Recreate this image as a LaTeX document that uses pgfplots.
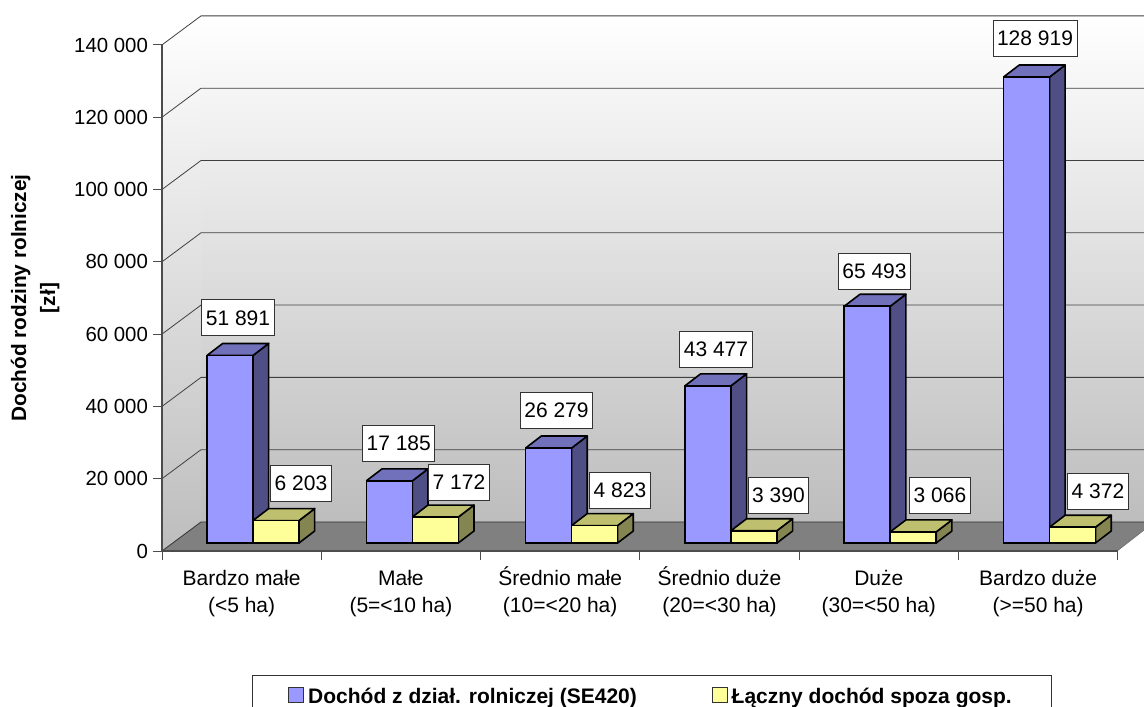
\documentclass[border=0pt]{standalone}
\usepackage{fontspec}
\setmainfont{Liberation Sans}
\usepackage{pgfplots}
\pgfplotsset{compat=1.18}
\definecolor{bluefront}{HTML}{9999FF}
\definecolor{blueside}{HTML}{4F4F85}
\definecolor{bluetop}{HTML}{7070BB}
\definecolor{yellowfront}{HTML}{FFFF99}
\definecolor{yellowside}{HTML}{858552}
\definecolor{yellowtop}{HTML}{BFBF70}
\definecolor{wallgrey}{HTML}{BDBDBD}
\definecolor{floorgrey}{HTML}{808080}
\newcommand\chartfont{\fontsize{10.5pt}{13.5pt}\selectfont}

% side and top of a 3D bar: left x, right x, value, side colour, top colour
\newcommand\barfaces[5]{%
  \addplot[fill=#4,draw=black,line width=0.8pt,line join=round,forget plot]
    table[row sep=\\,x expr=#2+\thisrow{a}*0.0985,y expr=2213+\thisrow{a}*3320+\thisrow{b}*#3]
    {a b\\0 0\\1 0\\1 1\\0 1\\0 0\\};
  \addplot[fill=#5,draw=black,line width=0.8pt,line join=round,forget plot]
    table[row sep=\\,x expr=#1+\thisrow{a}*(#2-#1)+\thisrow{c}*0.0985,y expr=2213+#3+\thisrow{c}*3320]
    {a c\\0 0\\1 0\\1 1\\0 1\\0 0\\};
}
\newcommand\lab[3]{\node[draw=black!80,line width=0.4pt,fill=white,font=\chartfont,inner xsep=2pt,inner ysep=0pt,minimum height=18pt] at (#1,#2) {#3};}

\begin{document}
\begin{tikzpicture}
\path[use as bounding box] (0,0) rectangle (572pt,353pt);
% walls and floor, in picture pixels
\begin{scope}[x=0.5pt,y=-0.5pt,shift={(0pt,353pt)}]
  \shade[top color=white,bottom color=wallgrey] (201,15) rectangle (1144,522);
  \shade[top color=white,bottom color=wallgrey] (162,44) -- (201,15) -- (201,522) -- (162,551) -- cycle;
  \fill[floorgrey] (162,551) -- (201,522) -- (1144,522) -- (1144,530) -- (1117,551) -- cycle;
  \foreach \y in {478.7,406.4,334.1,261.8,189.5,117.2,44.9} {
    \draw[black!75,line width=0.4pt] (162,\y) -- (201,\y-29) -- (1144,\y-29);
  }
  \draw[black!80,line width=0.4pt] (162,551) -- (201,522) -- (1144,522);
  \draw[black!55,line width=0.4pt] (1117,551) -- (1144,530);
\end{scope}
\begin{axis}[
    at={(81pt,77.5pt)},anchor=south west,
    scale only axis,width=477.9pt,height=253pt,
    xmin=0,xmax=6,ymin=0,ymax=140000,
    clip=false,
    axis lines=left,
    axis line style={-,black!70,line width=0.6pt},
    tick style={black!70,line width=0.5pt},
    tick align=outside,major tick length=4.5pt,
    xtick={0,1,2,3,4,5,6},
    xticklabels={{\strut Bardzo małe\\(<5 ha)},{\strut Małe\\(5=<10 ha)},{\strut Średnio małe\\(10=<20 ha)},{\strut Średnio duże\\(20=<30 ha)},{\strut Duże\\(30=<50 ha)},{\strut Bardzo duże\\(>=50 ha)},{}},
    xticklabel style={align=center,font=\chartfont,xshift=39.8pt,yshift=0pt},
    ytick={0,20000,40000,60000,80000,100000,120000,140000},
    yticklabel style={font=\fontsize{10.2pt}{13pt}\selectfont,xshift=1pt,/pgf/number format/.cd,fixed,precision=0,assume math mode=true,1000 sep={\ },min exponent for 1000 sep=0},
    scaled y ticks=false,
    ylabel={Dochód rodziny rolniczej\\{[zł]}},
    ylabel style={align=center,font=\fontsize{10.4pt}{14.5pt}\selectfont\bfseries,at={(axis description cs:-0.1326,0.5)},anchor=center},
    legend columns=2,
    legend cell align=left,
    legend style={at={(axis description cs:0.0941,-0.245)},anchor=north west,draw=black!80,line width=0.5pt,
      font=\fontsize{10.5pt}{12pt}\selectfont\bfseries,inner xsep=18pt,inner ysep=4.5pt,/tikz/every even column/.append style={column sep=35.5pt}},
    legend image code/.code={\draw[#1,draw=black!80,line width=0.4pt] (0.5pt,-6.5pt) rectangle (8pt,1pt);},
]
\barfaces{0.2825}{0.5712}{51891}{blueside}{bluetop}
\barfaces{1.2825}{1.5712}{17185}{blueside}{bluetop}
\barfaces{2.2825}{2.5712}{26279}{blueside}{bluetop}
\barfaces{3.2825}{3.5712}{43477}{blueside}{bluetop}
\barfaces{4.2825}{4.5712}{65493}{blueside}{bluetop}
\barfaces{5.2825}{5.5712}{128919}{blueside}{bluetop}
\addplot[ybar,bar width=23pt,bar shift=-5.8pt,yshift=4pt,fill=bluefront,draw=black,line width=0.8pt]
  coordinates {(0.5,51891) (1.5,17185) (2.5,26279) (3.5,43477) (4.5,65493) (5.5,128919)};
\addlegendentry{Dochód z dział. rolniczej (SE420)}
\barfaces{0.5712}{0.8600}{6203}{yellowside}{yellowtop}
\barfaces{1.5712}{1.8600}{7172}{yellowside}{yellowtop}
\barfaces{2.5712}{2.8600}{4823}{yellowside}{yellowtop}
\barfaces{3.5712}{3.8600}{3390}{yellowside}{yellowtop}
\barfaces{4.5712}{4.8600}{3066}{yellowside}{yellowtop}
\barfaces{5.5712}{5.8600}{4372}{yellowside}{yellowtop}
\addplot[ybar,bar width=23pt,bar shift=17.2pt,yshift=4pt,fill=yellowfront,draw=black,line width=0.8pt]
  coordinates {(0.5,6203) (1.5,7172) (2.5,4823) (3.5,3390) (4.5,3066) (5.5,4372)};
\addlegendentry{Łączny dochód spoza gosp.}
\end{axis}
% data labels, in picture pixels
\begin{scope}[x=0.5pt,y=-0.5pt,shift={(0pt,353pt)}]
  \lab{238}{317.8}{51 891}
  \lab{398.7}{443.7}{17 185}
  \lab{556.5}{410.5}{26 279}
  \lab{716}{349.7}{43 477}
  \lab{874.5}{271}{65 493}
  \lab{1035}{38.7}{128 919}
  \lab{301}{483.5}{6 203}
  \lab{459}{482.5}{7 172}
  \lab{620}{490}{4 823}
  \lab{778.5}{495}{3 390}
  \lab{940}{495}{3 066}
  \lab{1098}{491}{4 372}
\end{scope}
\end{tikzpicture}
\end{document}
